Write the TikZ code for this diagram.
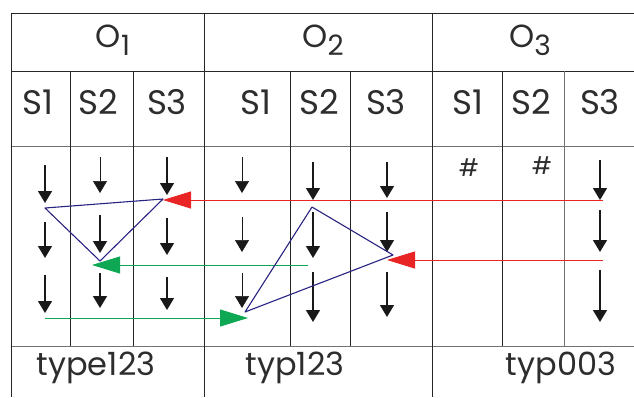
\documentclass[tikz,border=0pt]{standalone}
\usepackage{fontspec}
\setmainfont{Poppins}
\usetikzlibrary{arrows.meta}
\definecolor{ink}{RGB}{45,45,45}
\definecolor{redarr}{RGB}{232,36,36}
\definecolor{greenarr}{RGB}{14,168,84}
\definecolor{triblue}{RGB}{40,34,128}
\newcommand{\lowsub}[1]{{\fontsize{28}{28}\selectfont\raisebox{-8pt}{#1}}}
\tikzset{
  rule/.style={draw=black!85, line width=0.9pt},
  thinrule/.style={draw=black!55, line width=0.7pt},
  head/.style={font=\fontsize{32}{32}\selectfont, text=ink, inner sep=0pt},
  slbl/.style={font=\fontsize{34}{34}\selectfont, text=ink, inner sep=0pt},
  foot/.style={font=\fontsize{32}{32}\selectfont, text=ink, inner sep=0pt},
  hash/.style={font=\fontsize{24}{24}\selectfont, text=ink, inner sep=0pt},
  down/.style={-{Triangle[length=12pt,width=14pt]}, line width=1.3pt, black!90},
  downlt/.style={-{Triangle[length=12pt,width=14pt]}, line width=0.7pt, black!90},
  move/.style={-{Triangle[length=28pt,width=17pt]}, line width=1pt},
  tri/.style={draw=triblue, line width=1.1pt, line join=round}
}

\begin{document}
\begin{tikzpicture}[x=1pt,y=-1pt]
  \useasboundingbox (0,0) rectangle (634,397);
  % table
  \foreach \y in {13,71} \draw[rule] (11,\y) -- (634,\y);
  \foreach \y in {146,346} \draw[thinrule] (11,\y) -- (634,\y);
  \foreach \x in {11,204,432} \draw[rule] (\x,13) -- (\x,397);
  \foreach \x in {70,133,290,350,502} \draw[rule] (\x,71) -- (\x,346);
  \draw[thinrule] (564,71) -- (564,346);
  % headers
  \node[head] (o1) at (113,40) {O\lowsub{1}};
  \node[head] (o2) at (323,40) {O\lowsub{2}};
  \node[head] (o3) at (530,40) {O\lowsub{3}};
  \foreach \n/\x/\t in {a/38/S1,b/98/S2,c/167/S3,d/256/S1,e/319/S2,f/386/S3,g/468/S1,h/531/S2,i/600/S3}
    \node[slbl] (s\n) at (\x,102) {\t};
  % steps
  \foreach \n/\x/\ya/\yb/\st in {
      a1/45/165/203/down, a2/45/222/258/down, a3/45/275/313/down,
      b1/100/157/193/downlt, b2/100/215/253/down, b3/100/273/308/down,
      c1/167/157/195/down, c2/167/218/255/down, c3/167/277/310/down,
      d1/242/157/193/downlt, d2/242/217/252/downlt, d3/242/273/308/downlt,
      e1/313/162/200/down, e2/313/212/258/down, e3/313/272/322/down,
      f1/387/162/198/down, f2/387/212/252/down, f3/387/272/317/down,
      i1/600/160/200/down, i2/600/210/252/down, i3/600/270/322/down} {
    \coordinate (\n) at (\x,\ya);
    \coordinate (\n t) at (\x,\yb);
    \draw[\st] (\n) -- (\n t);
  }
  \node[hash] (h1) at (469,168) {\#};
  \node[hash] (h2) at (542,166) {\#};
  % moves
  \coordinate (r1s) at (603,200);
  \coordinate (r1e) at (163,200);
  \coordinate (r2s) at (603,260);
  \coordinate (r2e) at (387,260);
  \coordinate (g1s) at (308,265);
  \coordinate (g1e) at (92,265);
  \coordinate (g2s) at (45,318);
  \coordinate (g2e) at (248,318);
  \draw[move, redarr] (r1s) -- (r1e);
  \draw[move, redarr] (r2s) -- (r2e);
  \draw[move, greenarr] (g1s) -- (g1e);
  \draw[move, greenarr] (g2s) -- (g2e);
  % triangles
  \coordinate (t1a) at (45,208);
  \coordinate (t1b) at (163,199);
  \coordinate (t1c) at (100,261);
  \coordinate (t2a) at (312,207);
  \coordinate (t2b) at (393,255);
  \coordinate (t2c) at (245,312);
  \draw[tri] (t1a) -- (t1b) -- (t1c) -- cycle;
  \draw[tri] (t2a) -- (t2b) -- (t2c) -- cycle;
  % footers
  \node[foot] (f1) at (96,368) {type123};
  \node[foot] (f2) at (295,368) {typ123};
  \node[foot] (f3) at (561,368) {typ003};
\end{tikzpicture}
\end{document}
